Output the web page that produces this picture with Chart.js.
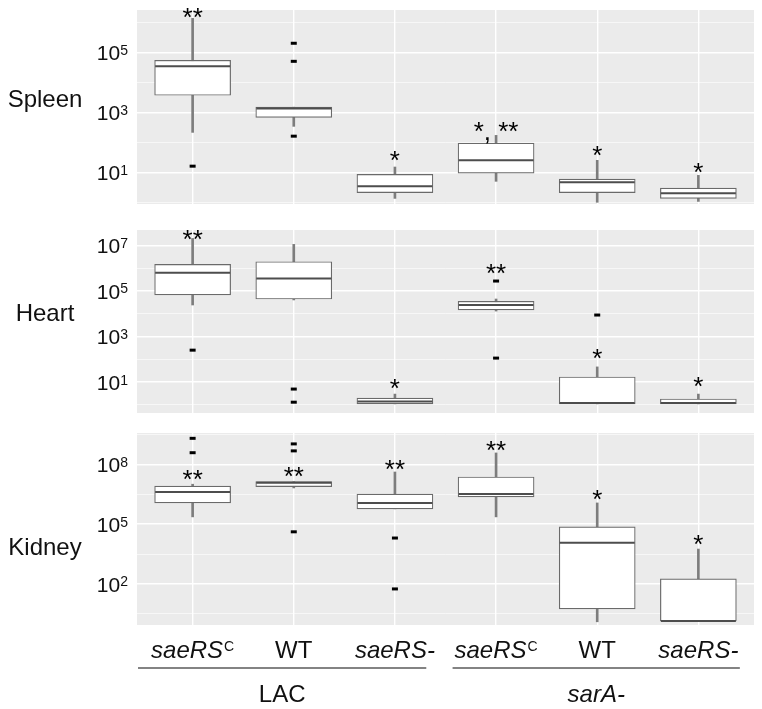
<!DOCTYPE html>
<html lang="en">
<head>
<meta charset="UTF-8">
<title>Bacterial burden by organ</title>
<script src="https://cdn.jsdelivr.net/npm/chart.js"></script>
<style>
    html, body { margin: 0; padding: 0; background: #fff; }
    body { width: 762px; height: 709px; position: relative; overflow: hidden; }
    canvas { position: absolute; left: 0; }
</style>
<script>
    // categories along x (^C = superscript C)
    const categories = ['saeRS^C', 'WT', 'saeRS-', 'saeRS^C', 'WT', 'saeRS-'];
    const groupNames = ['LAC', 'sarA-'];
    const groupItalic = [false, true];

    // spleen
    const spleenLow    = [214, 340, 1.35, 5.0, 1.0, 1.07];
    const spleenQ1     = [3700, 680, 2.1, 9.3, 2.1, 1.35];
    const spleenMedian = [34000, 1350, 3.4, 25, 4.7, 2.0];
    const spleenQ3     = [54000, 1480, 8.5, 93, 5.9, 2.95];
    const spleenHigh   = [1.35e6, 1480, 15, 170, 25, 7.9];
    const spleenOutliers = [[16], [2.0e5, 5.0e4, 160], [], [], [], []];
    const spleenStars  = ['**', '', '*', '*, **', '*', '*'];
    const spleenStarAt = [2.0e6, null, 35, 324, 51, 13.8];
    const spleenMajor  = [1e1, 1e3, 1e5];
    const spleenMinor  = [1, 1e2, 1e4, 1e6];

    // heart
    const heartLow    = [24000, 40000, 1.1, 13000, 1.1, 1.1];
    const heartQ1     = [66000, 44000, 1.1, 14500, 1.1, 1.1];
    const heartMedian = [6.2e5, 3.5e5, 1.4, 24000, 1.2, 1.2];
    const heartQ3     = [1.45e6, 1.9e6, 1.95, 35000, 16.6, 1.8];
    const heartHigh   = [2.0e7, 1.1e7, 2.95, 44000, 46, 2.95];
    const heartOutliers = [[250], [4.9, 1.3], [], [2.7e5, 112], [8700], []];
    const heartStars  = ['**', '', '*', '**', '*', '*'];
    const heartStarAt = [2.8e7, null, 8.1, 9.1e5, 170, 10];
    const heartMajor  = [1e1, 1e3, 1e5, 1e7];
    const heartMinor  = [1, 1e2, 1e4, 1e6];

    // kidney
    const kidneyLow    = [2.3e5, 6.5e6, 5.8e5, 2.3e5, 1.26, 1.4];
    const kidneyQ1     = [1.15e6, 7.6e6, 5.8e5, 2.3e6, 5.6, 1.4];
    const kidneyMedian = [4.1e6, 1.2e7, 1.15e6, 3.2e6, 11500, 1.4];
    const kidneyQ3     = [8.1e6, 1.35e7, 3.2e6, 2.3e7, 72000, 178];
    const kidneyHigh   = [1.0e7, 1.35e7, 4.1e7, 3.7e8, 1.15e6, 5600];
    const kidneyOutliers = [[2.0e9, 3.8e8], [1.05e9, 4.7e8, 41000], [20000, 56], [], [], []];
    const kidneyStars  = ['**', '**', '**', '**', '*', '*'];
    const kidneyStarAt = [2.9e7, 4.1e7, 9.1e7, 8.3e8, 2.9e6, 16000];
    const kidneyMajor  = [1e2, 1e5, 1e8];
    const kidneyMinor  = [3.16, 3162, 3.16e6, 3.16e9];

    const FONT = '"Liberation Sans", Arial, sans-serif';
    // group underline extents, in x-axis units
    const groupLines = [[-0.54, 2.31], [2.57, 5.41]];

    function textWidth(ctx, font, txt) {
        ctx.font = font;
        return ctx.measureText(txt).width;
    }

    const panelPlugin = {
        id: 'panel',
        beforeDraw(chart) {
            const a = chart.chartArea, ctx = chart.ctx;
            ctx.save();
            ctx.fillStyle = '#ebebeb';
            ctx.fillRect(a.left, a.top, a.right - a.left, a.bottom - a.top);
            ctx.restore();
        },
        afterDraw(chart, args, opts) {
            const ctx = chart.ctx, a = chart.chartArea;
            const xs = chart.scales.x, ys = chart.scales.y;
            ctx.save();
            ctx.fillStyle = '#111';

            // organ name
            ctx.font = '24px ' + FONT;
            ctx.textAlign = 'center';
            ctx.textBaseline = 'alphabetic';
            ctx.fillText(opts.name, 45, a.top + opts.nameOffset);

            // y tick labels 10^n
            opts.major.forEach(v => {
                const y = ys.getPixelForValue(v) + 2;
                const exp = String(Math.round(Math.log10(v)));
                const supW = textWidth(ctx, '14px ' + FONT, exp);
                const baseW = textWidth(ctx, '21px ' + FONT, '10');
                const right = a.left - 9;
                ctx.textAlign = 'left';
                ctx.font = '21px ' + FONT;
                ctx.textBaseline = 'middle';
                ctx.fillText('10', right - supW - baseW, y);
                ctx.font = '14px ' + FONT;
                ctx.textBaseline = 'alphabetic';
                ctx.fillText(exp, right - supW, y + 0.5);
            });

            // significance marks
            ctx.font = '26px ' + FONT;
            ctx.textAlign = 'center';
            ctx.textBaseline = 'alphabetic';
            const m = ctx.measureText('*');
            const lift = (m.actualBoundingBoxAscent - m.actualBoundingBoxDescent) / 2;
            opts.stars.forEach((s, i) => {
                if (!s) return;
                ctx.fillStyle = '#000';
                ctx.fillText(s, xs.getPixelForValue(i), ys.getPixelForValue(opts.starAt[i]) + lift);
            });

            // x labels and groups (bottom panel only)
            if (opts.xLabels) {
                ctx.fillStyle = '#111';
                const base = a.bottom + 33;
                categories.forEach((c, i) => {
                    const x = xs.getPixelForValue(i);
                    const sup = c.includes('^') ? c.split('^')[1] : '';
                    const main = c.split('^')[0];
                    const italic = main !== 'WT';
                    const mFont = (italic ? 'italic ' : '') + '24px ' + FONT;
                    const sFont = '14px ' + FONT;
                    const w1 = textWidth(ctx, mFont, main);
                    const w2 = sup ? textWidth(ctx, sFont, sup) + 1 : 0;
                    const left = x - (w1 + w2) / 2;
                    ctx.textAlign = 'left';
                    ctx.font = mFont;
                    ctx.fillText(main, left, base);
                    if (sup) {
                        ctx.font = sFont;
                        ctx.fillText(sup, left + w1 + 1, base - 7);
                    }
                });
                ctx.strokeStyle = '#5a5a5a';
                ctx.lineWidth = 1.5;
                groupNames.forEach((g, k) => {
                    const x0 = xs.getPixelForValue(groupLines[k][0]);
                    const x1 = xs.getPixelForValue(groupLines[k][1]);
                    ctx.beginPath();
                    ctx.moveTo(x0, a.bottom + 43);
                    ctx.lineTo(x1, a.bottom + 43);
                    ctx.stroke();
                    ctx.font = (groupItalic[k] ? 'italic ' : '') + '24px ' + FONT;
                    ctx.textAlign = 'center';
                    ctx.fillText(g, (x0 + x1) / 2, a.bottom + 77);
                });
            }
            ctx.restore();
        }
    };

    function boxChart(id, d) {
        const whiskers = d.low.map((v, i) => ({ x: i, y: [v, d.high[i]] }));
        const boxes = d.q1.map((v, i) => ({ x: i, y: [v, d.q3[i]] }));
        const medians = d.median.map((v, i) => ({ x: i, y: v }));
        const outliers = [];
        d.outliers.forEach((list, i) => list.forEach(v => outliers.push({ x: i, y: v })));

        return new Chart(document.getElementById(id), {
            type: 'bar',
            data: {
                datasets: [
                    { type: 'bar', data: whiskers, grouped: false, barThickness: 2,
                      backgroundColor: '#7d7d7d', order: 4 },
                    { type: 'bar', data: boxes, grouped: false, barThickness: 76,
                      backgroundColor: '#ffffff', borderColor: '#6a6a6a', borderWidth: 1.2,
                      borderSkipped: false, order: 3 },
                    { type: 'scatter', data: medians, pointStyle: 'line', pointRadius: 37.5,
                      borderWidth: 2, borderColor: '#4d4d4d', order: 2 },
                    { type: 'scatter', data: outliers, pointStyle: 'line', pointRadius: 3,
                      borderWidth: 3, borderColor: '#000', order: 1 }
                ]
            },
            options: {
                responsive: false,
                animation: false,
                layout: {
                    autoPadding: false,
                    padding: { left: 137, right: 8, top: d.padTop, bottom: d.padBottom }
                },
                plugins: {
                    legend: { display: false },
                    tooltip: { enabled: false },
                    panel: {
                        name: d.name, nameOffset: d.nameOffset, major: d.major,
                        stars: d.stars, starAt: d.starAt, xLabels: d.xLabels
                    }
                },
                scales: {
                    x: {
                        type: 'linear', min: -0.55, max: 5.55, bounds: 'data', offset: false,
                        afterBuildTicks: s => { s.ticks = categories.map((c, i) => ({ value: i })); },
                        ticks: { display: false },
                        grid: { color: '#ffffff', lineWidth: 1.4, drawTicks: false, offset: false },
                        border: { display: false }
                    },
                    y: {
                        type: 'logarithmic', min: d.range[0], max: d.range[1], bounds: 'data',
                        afterBuildTicks: s => {
                            s.ticks = d.major.map(v => ({ value: v, major: true }))
                                .concat(d.minor.map(v => ({ value: v, major: false })));
                        },
                        ticks: { display: false },
                        grid: {
                            color: '#ffffff', drawTicks: false,
                            lineWidth: c => (c.tick && c.tick.major ? 1.4 : 0.6)
                        },
                        border: { display: false }
                    }
                }
            },
            plugins: [panelPlugin]
        });
    }

    document.addEventListener('DOMContentLoaded', function () {
        boxChart('spleen', {
            name: 'Spleen', nameOffset: 97,
            low: spleenLow, q1: spleenQ1, median: spleenMedian, q3: spleenQ3, high: spleenHigh,
            outliers: spleenOutliers, stars: spleenStars, starAt: spleenStarAt,
            major: spleenMajor, minor: spleenMinor, range: [0.877, 2.57e6],
            padTop: 10, padBottom: 10, xLabels: false
        });
        boxChart('heart', {
            name: 'Heart', nameOffset: 91,
            low: heartLow, q1: heartQ1, median: heartMedian, q3: heartQ3, high: heartHigh,
            outliers: heartOutliers, stars: heartStars, starAt: heartStarAt,
            major: heartMajor, minor: heartMinor, range: [0.436, 4.7e7],
            padTop: 16, padBottom: 7, xLabels: false
        });
        boxChart('kidney', {
            name: 'Kidney', nameOffset: 122,
            low: kidneyLow, q1: kidneyQ1, median: kidneyMedian, q3: kidneyQ3, high: kidneyHigh,
            outliers: kidneyOutliers, stars: kidneyStars, starAt: kidneyStarAt,
            major: kidneyMajor, minor: kidneyMinor, range: [0.87, 3.7e9],
            padTop: 13, padBottom: 84, xLabels: true
        });
    });
</script>
</head>
<body>
    <canvas id="spleen" width="762" height="214" style="top:0"></canvas>
    <canvas id="heart" width="762" height="206" style="top:214px"></canvas>
    <canvas id="kidney" width="762" height="289" style="top:420px"></canvas>
</body>
</html>
